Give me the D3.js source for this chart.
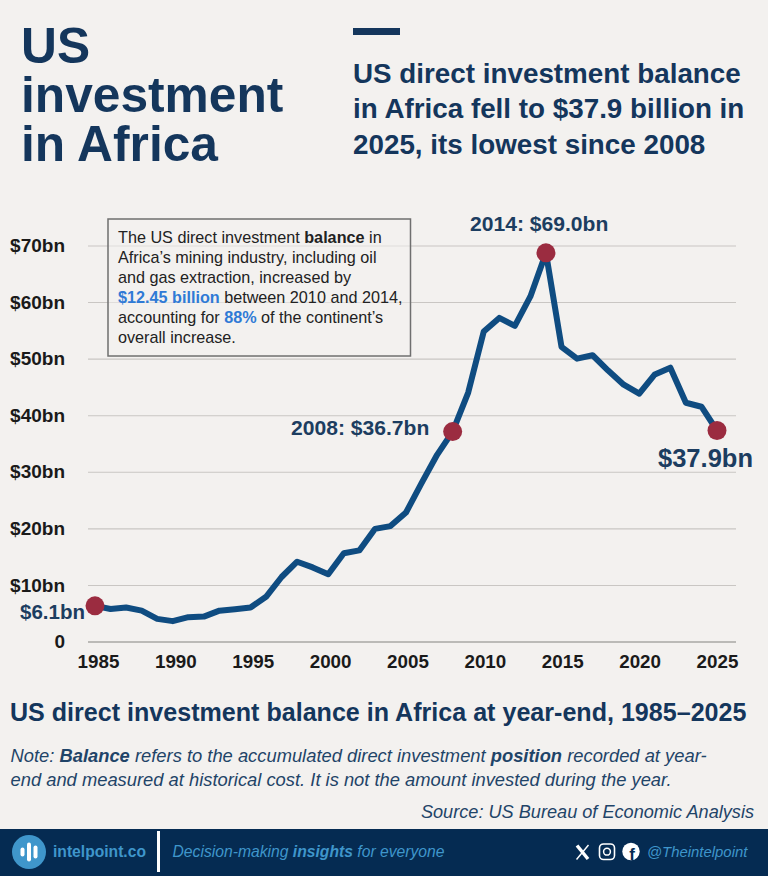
<!DOCTYPE html>
<html>
<head>
<meta charset="utf-8">
<script src="https://cdn.jsdelivr.net/npm/d3@7"></script>
<style>
html, body { margin: 0; padding: 0; background: #f3f1ef; }
#chart { width: 768px; height: 876px; overflow: hidden; }
text { font-family: "Liberation Sans", Arial, sans-serif; }
</style>
</head>
<body>
<div id="chart"></div>
<script>
const years = [1985, 1986, 1987, 1988, 1989, 1990, 1991, 1992, 1993, 1994, 1995, 1996, 1997, 1998,
    1999, 2000, 2001, 2002, 2003, 2004, 2005, 2006, 2007, 2008, 2009, 2010, 2011, 2012, 2013, 2014,
    2015, 2016, 2017, 2018, 2019, 2020, 2021, 2022, 2023, 2024, 2025];
const balance = [6.3, 5.75, 6.0, 5.45, 4.0, 3.6, 4.3, 4.4, 5.45, 5.7, 6.0, 7.9, 11.4, 14.1,
    13.1, 11.9, 15.6, 16.1, 19.9, 20.4, 22.8, 28, 33, 37.1, 44, 54.8, 57.2, 55.8, 61, 68.7,
    52.1, 50, 50.6, 47.9, 45.4, 43.8, 47.2, 48.4, 42.2, 41.5, 37.3];
const yTicks = [0, 10, 20, 30, 40, 50, 60, 70];
const xTicks = [1985, 1990, 1995, 2000, 2005, 2010, 2015, 2020, 2025];
const highlightYears = [1985, 2008, 2014, 2025];

const navy = "#14365c", lineBlue = "#0f4c81", textNavy = "#1c3d60", red = "#9b2c40", footer = "#052b52", lightBlue = "#3f96cb";

const svg = d3.select("#chart").append("svg")
    .attr("width", 768)
    .attr("height", 876);

svg.append("rect").attr("width", 768).attr("height", 876).attr("fill", "#f3f1ef");

const x = d3.scaleLinear().domain([1985, 2025]).range([95, 717]);
const xLabel = d3.scaleLinear().domain([1985, 2025]).range([98, 717]); // labels sit a bit off the points in the original
const y = d3.scaleLinear().domain([0, 70]).range([641.5, 245.5]);

// helper for text with mixed runs
function addText(parent, px, py, size, color, runs, opts = {}) {
    const t = parent.append("text")
        .attr("x", px).attr("y", py)
        .attr("font-size", size)
        .attr("fill", color)
        .attr("text-anchor", opts.anchor || "start")
        .attr("font-style", opts.italic ? "italic" : null)
        .attr("font-weight", opts.bold ? "bold" : null);
    runs.forEach(r => {
        const s = t.append("tspan").text(r.t);
        if (r.b) s.attr("font-weight", "bold");
        if (r.c) s.attr("fill", r.c);
    });
    return t;
}

// header
["US", "investment", "in Africa"].forEach((d, i) => {
    addText(svg, 21, 62.5 + i * 49.2, 49.7, navy, [{ t: d }], { bold: true });
});
svg.append("rect").attr("x", 353).attr("y", 28).attr("width", 47).attr("height", 7).attr("fill", navy);
["US direct investment balance", "in Africa fell to $37.9 billion in", "2025, its lowest since 2008"].forEach((d, i) => {
    addText(svg, 353, 83 + i * 35.3, 27.8, navy, [{ t: d }], { bold: true });
});

// axes
const gy = svg.append("g")
    .attr("transform", "translate(88,0)")
    .call(d3.axisRight(y).tickValues(yTicks).tickSize(648).tickFormat(""));
gy.select(".domain").remove();
gy.selectAll("line").attr("stroke", d => d === 0 ? "#a9a7a5" : "#c9c6c3").attr("stroke-width", d => d === 0 ? 1.6 : 1.1);

const yLabels = svg.append("g")
    .attr("transform", "translate(65,0)")
    .call(d3.axisLeft(y).tickValues(yTicks).tickSize(0).tickPadding(0).tickFormat(d => d === 0 ? "0" : `$${d}bn`));
yLabels.select(".domain").remove();
yLabels.selectAll("text").attr("font-size", 19).attr("font-weight", "bold").attr("fill", "#1a1a1a")
    .style("font-family", '"Liberation Sans", Arial, sans-serif');

const xAxis = svg.append("g")
    .attr("transform", "translate(0,641.5)")
    .call(d3.axisBottom(xLabel).tickValues(xTicks).tickSize(0).tickPadding(13).tickFormat(d3.format("d")));
xAxis.select(".domain").remove();
xAxis.selectAll("text").attr("font-size", 18.8).attr("font-weight", "bold").attr("fill", "#1a1a1a")
    .style("font-family", '"Liberation Sans", Arial, sans-serif');

// line
const line = d3.line().x((d, i) => x(years[i])).y(d => y(d));
svg.append("path")
    .attr("d", line(balance))
    .attr("fill", "none")
    .attr("stroke", lineBlue)
    .attr("stroke-width", 6)
    .attr("stroke-linejoin", "round");

svg.selectAll("circle.hl")
    .data(highlightYears)
    .join("circle")
    .attr("class", "hl")
    .attr("cx", d => x(d))
    .attr("cy", d => y(balance[years.indexOf(d)]))
    .attr("r", 9.5)
    .attr("fill", red);

// point labels
addText(svg, 20, 619, 20.5, textNavy, [{ t: "$6.1bn" }], { bold: true });
addText(svg, 291, 435, 21.1, textNavy, [{ t: "2008: $36.7bn" }], { bold: true });
addText(svg, 470, 231, 21.1, textNavy, [{ t: "2014: $69.0bn" }], { bold: true });
addText(svg, 658, 467, 25.5, textNavy, [{ t: "$37.9bn" }], { bold: true });

// note box
svg.append("rect").attr("x", 108).attr("y", 219).attr("width", 302.5).attr("height", 137)
    .attr("fill", "#f3f1ef").attr("fill-opacity", 0.55).attr("stroke", "#6f6f6f").attr("stroke-width", 1.5);
const blue = "#2f7ad6";
[
    [{ t: "The US direct investment " }, { t: "balance", b: 1 }, { t: " in" }],
    [{ t: "Africa’s mining industry, including oil" }],
    [{ t: "and gas extraction, increased by" }],
    [{ t: "$12.45 billion", b: 1, c: blue }, { t: " between 2010 and 2014," }],
    [{ t: "accounting for " }, { t: "88%", b: 1, c: blue }, { t: " of the continent’s" }],
    [{ t: "overall increase." }]
].forEach((runs, i) => addText(svg, 118, 242.7 + i * 20.1, 16.2, "#222", runs));

// bottom text
addText(svg, 10, 720.7, 25.08, navy, [{ t: "US direct investment balance in Africa at year-end, 1985–2025" }], { bold: true });
addText(svg, 10.5, 762, 18.35, "#1f4468", [{ t: "Note: " }, { t: "Balance", b: 1 }, { t: " refers to the accumulated direct investment " }, { t: "position", b: 1 }, { t: " recorded at year-" }], { italic: true });
addText(svg, 10.5, 785.5, 18.35, "#1f4468", [{ t: "end and measured at historical cost. It is not the amount invested during the year." }], { italic: true });
addText(svg, 754, 817.5, 18.15, "#1f4468", [{ t: "Source: US Bureau of Economic Analysis" }], { italic: true, anchor: "end" });

// footer
const foot = svg.append("g");
foot.append("rect").attr("x", 0).attr("y", 829).attr("width", 768).attr("height", 47).attr("fill", footer);
foot.append("circle").attr("cx", 29).attr("cy", 852).attr("r", 17).attr("fill", lightBlue);
[[-6.5, 9], [0, 19], [6.5, 13]].forEach(b => {
    foot.append("rect").attr("x", 29 + b[0] - 2).attr("y", 852 - b[1] / 2).attr("width", 4).attr("height", b[1]).attr("rx", 2).attr("fill", "#fff");
});
addText(foot, 53, 857, 15.65, lightBlue, [{ t: "intelpoint.co" }], { bold: true });
foot.append("rect").attr("x", 157).attr("y", 831).attr("width", 3).attr("height", 41).attr("fill", "#fff");
addText(foot, 172.5, 857, 15.7, lightBlue, [{ t: "Decision-making " }, { t: "insights", b: 1 }, { t: " for everyone" }], { italic: true });
// X icon
foot.append("path").attr("d", "M577 845.5L588 859").attr("stroke", "#fff").attr("stroke-width", 3.4).attr("fill", "none");
foot.append("path").attr("d", "M588.5 845L576.5 859.5").attr("stroke", "#fff").attr("stroke-width", 1.4).attr("fill", "none");
// instagram icon
foot.append("rect").attr("x", 599.5).attr("y", 844).attr("width", 15).attr("height", 15.5).attr("rx", 4).attr("fill", "none").attr("stroke", "#fff").attr("stroke-width", 1.6);
foot.append("circle").attr("cx", 607).attr("cy", 851.7).attr("r", 3.4).attr("fill", "none").attr("stroke", "#fff").attr("stroke-width", 1.5);
// facebook icon
foot.append("circle").attr("cx", 631).attr("cy", 851.5).attr("r", 8.7).attr("fill", "#fff");
addText(foot, 632, 859.5, 17, footer, [{ t: "f" }], { bold: true, anchor: "middle" });
addText(foot, 647, 857, 14.9, lightBlue, [{ t: "@Theintelpoint" }], { italic: true });
</script>
</body>
</html>
